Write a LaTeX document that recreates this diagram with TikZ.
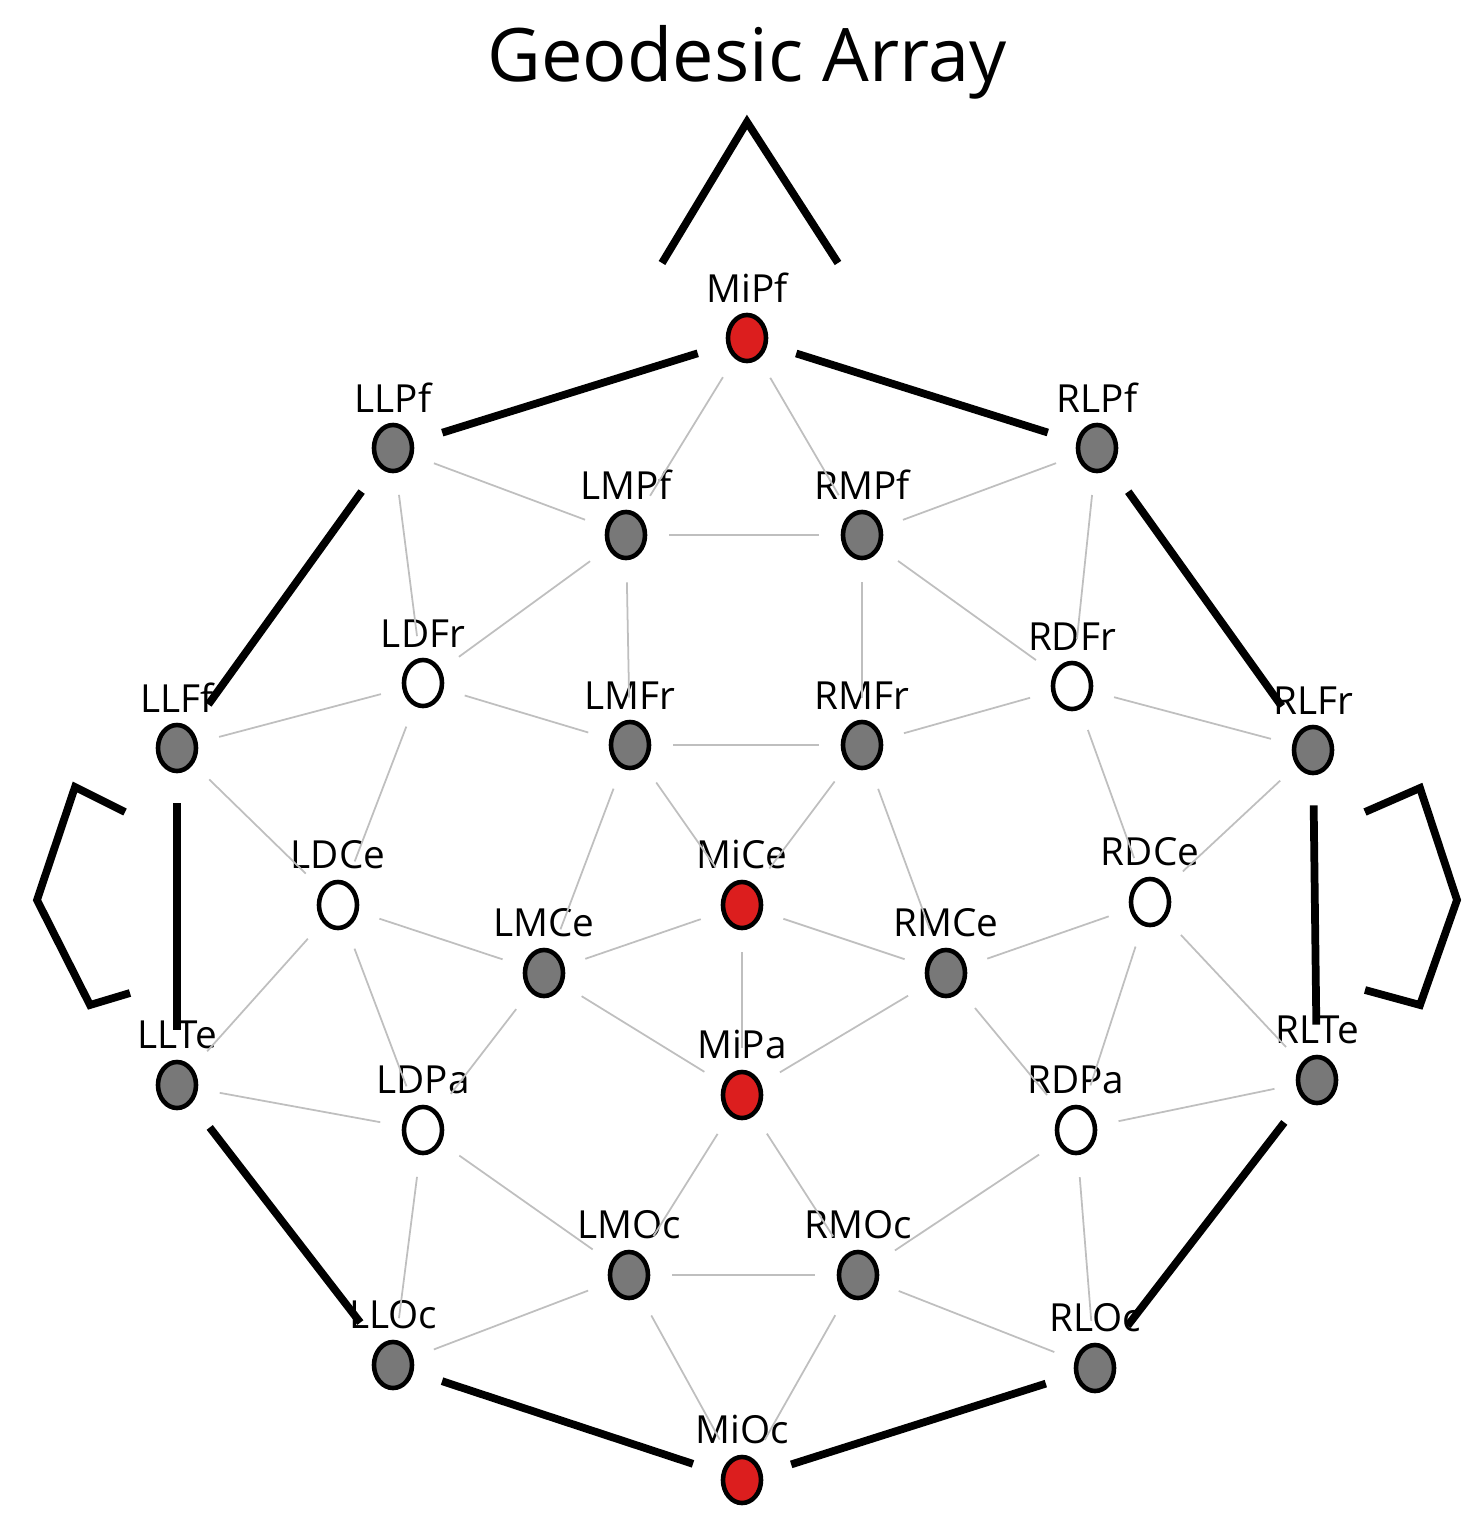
\documentclass[tikz,border=0pt]{standalone}
\usepackage{fontspec}
\setmainfont{Open Sans}
\usetikzlibrary{shapes.geometric}
\definecolor{ered}{RGB}{220,30,30}
\definecolor{egray}{RGB}{120,120,120}
\begin{document}
\begin{tikzpicture}[x=0.01cm,y=-0.01cm,
  el/.style={ellipse,draw=black,line width=1.3pt,minimum width=0.38cm,minimum height=0.46cm,inner sep=0pt,
    label={[font=\fontsize{11}{12}\selectfont,label distance=-0.02cm]above:#1}},
  rd/.style={el=#1,fill=ered},
  gy/.style={el=#1,fill=egray},
  wh/.style={el=#1,fill=white},
  thin/.style={draw=black!25,line width=0.5pt,shorten >=0.22cm,shorten <=0.22cm},
  thick/.style={line width=2.2pt,shorten >=0.3cm,shorten <=0.3cm},
  outl/.style={line width=2.2pt}]
\useasboundingbox (0,0) rectangle (1481,1533);
\node[font=\fontsize{21}{24}\selectfont] (title) at (747,62) {Geodesic Array};
\node[rd=MiPf] (MiPf) at (747,338) {};
\node[gy=LLPf] (LLPf) at (393,448) {};
\node[gy=RLPf] (RLPf) at (1097,448) {};
\node[gy=LMPf] (LMPf) at (626,535) {};
\node[gy=RMPf] (RMPf) at (862,535) {};
\node[wh=LDFr] (LDFr) at (423,683) {};
\node[wh=RDFr] (RDFr) at (1072,686) {};
\node[gy=LLFf] (LLFf) at (177,748) {};
\node[gy=LMFr] (LMFr) at (630,745) {};
\node[gy=RMFr] (RMFr) at (862,745) {};
\node[gy=RLFr] (RLFr) at (1313,750) {};
\node[wh=LDCe] (LDCe) at (338,905) {};
\node[rd=MiCe] (MiCe) at (742,905) {};
\node[wh=RDCe] (RDCe) at (1150,902) {};
\node[gy=LMCe] (LMCe) at (544,973) {};
\node[gy=RMCe] (RMCe) at (946,973) {};
\node[gy=LLTe] (LLTe) at (177,1085) {};
\node[gy=RLTe] (RLTe) at (1317,1080) {};
\node[wh=LDPa] (LDPa) at (423,1130) {};
\node[rd=MiPa] (MiPa) at (742,1095) {};
\node[wh=RDPa] (RDPa) at (1076,1130) {};
\node[gy=LMOc] (LMOc) at (629,1275) {};
\node[gy=RMOc] (RMOc) at (858,1275) {};
\node[gy=LLOc] (LLOc) at (393,1365) {};
\node[gy=RLOc] (RLOc) at (1095,1368) {};
\node[rd=MiOc] (MiOc) at (742,1480) {};
\foreach \a/\b in {MiPf/LMPf,MiPf/RMPf,LLPf/LMPf,LLPf/LDFr,RLPf/RMPf,RLPf/RDFr,LMPf/RMPf,LMPf/LMFr,LMPf/LDFr,RMPf/RMFr,RMPf/RDFr,LLFf/LDFr,LDFr/LMFr,LDFr/LDCe,RDFr/RMFr,RDFr/RLFr,RDFr/RDCe,LMFr/RMFr,LMFr/MiCe,LMFr/LMCe,RMFr/MiCe,RMFr/RMCe,LLFf/LDCe,RLFr/RDCe,LDCe/LMCe,LDCe/LLTe,LDCe/LDPa,MiCe/LMCe,MiCe/RMCe,MiCe/MiPa,RDCe/RMCe,RDCe/RLTe,RDCe/RDPa,LMCe/LDPa,LMCe/MiPa,RMCe/MiPa,RMCe/RDPa,LLTe/LDPa,RLTe/RDPa,LDPa/LMOc,LDPa/LLOc,RDPa/RMOc,RDPa/RLOc,MiPa/LMOc,MiPa/RMOc,LMOc/RMOc,LMOc/LLOc,LMOc/MiOc,RMOc/MiOc,RMOc/RLOc}
  \draw[thin] (\a) -- (\b);
\foreach \a/\b in {MiPf/LLPf,MiPf/RLPf,LLPf/LLFf,RLPf/RLFr,LLFf/LLTe,RLFr/RLTe,LLTe/LLOc,RLTe/RLOc,LLOc/MiOc,RLOc/MiOc}
  \draw[thick] (\a) -- (\b);
\draw[outl] (662,263) -- (747,122) -- (838,263);
\draw[outl] (125,812) -- (75,787) -- (37,900) -- (90,1005) -- (130,993);
\draw[outl] (1365,812) -- (1420,788) -- (1457,900) -- (1420,1005) -- (1365,990);
\end{tikzpicture}
\end{document}
